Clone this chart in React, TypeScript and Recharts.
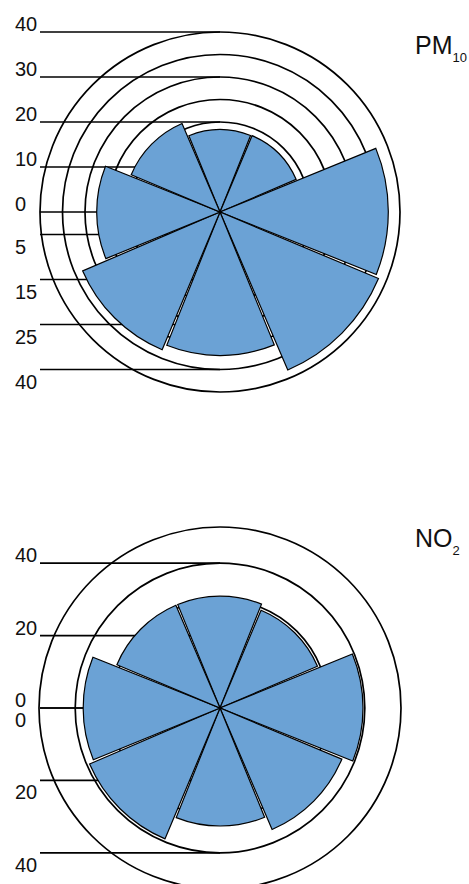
import React from "react";
import {
  RadialBarChart,
  RadialBar,
  PolarAngleAxis,
  PolarRadiusAxis,
  PolarGrid,
} from "recharts";

// wind sectors, clockwise from north
const DIRECTIONS = ["N", "NE", "E", "SE", "S", "SW", "W", "NW"];
const PM10_VALUES = [18.3, 18.4, 37.4, 38.2, 31.9, 33.2, 27.4, 21.4];
const NO2_VALUES = [30.9, 29.3, 39.5, 36.5, 32.6, 39.2, 37.8, 30.9];

const PM10_RINGS = [20, 25, 30, 35, 40];
const PM10_UP_TICKS = [0, 10, 20, 30, 40];
const PM10_UP_LABELS = ["0", "10", "20", "30", "40"];
const PM10_DOWN_TICKS = [5, 15, 25, 35];
const PM10_DOWN_LABELS = ["5", "15", "25", "40"];

const NO2_RINGS = [30, 40, 50];
const NO2_UP_TICKS = [0, 20, 40];
const NO2_UP_LABELS = ["0", "20", "40"];
const NO2_DOWN_TICKS = [0, 20, 40];
const NO2_DOWN_LABELS = ["0", "20", "40"];

const W = 469;
const H = 884;
const CX = 220;
const FONT = '"Liberation Sans", Arial, Helvetica, sans-serif';
const BLUE = "#6ba2d5";
const LEADER_X = 40;
const LABEL_X = 15;
const LINE_W = 1.7;

const ZERO_MARGIN = { top: 0, right: 0, bottom: 0, left: 0 };

function leaderTick(ticks: number[], labels: string[], below: boolean) {
  return (props: any) => {
    const { x, y, payload } = props;
    const i = ticks.indexOf(payload.value);
    return (
      <g>
        <line x1={LEADER_X} y1={y} x2={x} y2={y} stroke="#000" strokeWidth={LINE_W} />
        <text
          x={LABEL_X}
          y={below ? y + 19 : y - 1}
          fontSize={20}
          fontFamily={FONT}
          fill="#111"
        >
          {labels[i]}
        </text>
      </g>
    );
  };
}

interface RoseProps {
  values: number[];
  cy: number;
  radius: number;
  max: number;
  rings: number[];
  upTicks: number[];
  upLabels: string[];
  downTicks: number[];
  downLabels: string[];
}

// first band (N) runs from 67.5deg to 112.5deg, i.e. centred on 12 o'clock
const chartProps = (cy: number, radius: number) => ({
  width: W,
  height: H,
  cx: CX,
  cy,
  innerRadius: 0,
  outerRadius: radius,
  startAngle: 67.5,
  endAngle: -292.5,
  layout: "centric" as const,
  margin: ZERO_MARGIN,
});

function Rose({ values, cy, radius, max, rings, upTicks, upLabels, downTicks, downLabels }: RoseProps) {
  const data = DIRECTIONS.map((dir, i) => ({ dir, value: values[i] }));
  return (
    <>
      {/* rings and leader lines sit underneath the sectors */}
      <div style={{ position: "absolute", left: 0, top: 0 }}>
        <RadialBarChart data={data} {...chartProps(cy, radius)}>
          <PolarAngleAxis type="category" dataKey="dir" tick={false} axisLine={false} tickLine={false} />
          <PolarRadiusAxis
            type="number"
            domain={[0, max]}
            allowDataOverflow
            ticks={rings}
            tick={false}
            axisLine={false}
            tickLine={false}
          />
          <PolarRadiusAxis
            radiusAxisId="up"
            type="number"
            angle={90}
            domain={[0, max]}
            allowDataOverflow
            ticks={upTicks}
            axisLine={false}
            tickLine={false}
            tick={leaderTick(upTicks, upLabels, false)}
          />
          <PolarRadiusAxis
            radiusAxisId="down"
            type="number"
            angle={-90}
            domain={[0, max]}
            allowDataOverflow
            ticks={downTicks}
            axisLine={false}
            tickLine={false}
            tick={leaderTick(downTicks, downLabels, true)}
          />
          <PolarGrid gridType="circle" radialLines={false} stroke="#000" strokeWidth={LINE_W} />
          <RadialBar dataKey="value" fill="none" stroke="none" isAnimationActive={false} />
        </RadialBarChart>
      </div>
      <div style={{ position: "absolute", left: 0, top: 0 }}>
        <RadialBarChart data={data} barCategoryGap="1.6%" {...chartProps(cy, radius)}>
          <PolarAngleAxis type="category" dataKey="dir" tick={false} axisLine={false} tickLine={false} />
          <PolarRadiusAxis
            type="number"
            domain={[0, max]}
            allowDataOverflow
            tick={false}
            axisLine={false}
            tickLine={false}
          />
          <RadialBar dataKey="value" fill={BLUE} stroke="#000" strokeWidth={1.2} isAnimationActive={false} />
        </RadialBarChart>
      </div>
    </>
  );
}

function Title({ main, sub, top }: { main: string; sub: string; top: number }) {
  return (
    <div
      style={{
        position: "absolute",
        left: 415,
        top,
        fontFamily: FONT,
        fontSize: 25,
        lineHeight: "25px",
        color: "#111",
        whiteSpace: "nowrap",
      }}
    >
      {main}
      <span style={{ fontSize: 13, position: "relative", top: 8 }}>{sub}</span>
    </div>
  );
}

export default function App() {
  return (
    <div style={{ position: "absolute", left: 0, top: 0, width: W, height: H, background: "#fff", overflow: "hidden" }}>
      <Rose
        values={PM10_VALUES}
        cy={212}
        radius={180}
        max={40}
        rings={PM10_RINGS}
        upTicks={PM10_UP_TICKS}
        upLabels={PM10_UP_LABELS}
        downTicks={PM10_DOWN_TICKS}
        downLabels={PM10_DOWN_LABELS}
      />
      <Rose
        values={NO2_VALUES}
        cy={708}
        radius={181}
        max={50}
        rings={NO2_RINGS}
        upTicks={NO2_UP_TICKS}
        upLabels={NO2_UP_LABELS}
        downTicks={NO2_DOWN_TICKS}
        downLabels={NO2_DOWN_LABELS}
      />
      <Title main="PM" sub="10" top={33} />
      <Title main="NO" sub="2" top={526} />
    </div>
  );
}
